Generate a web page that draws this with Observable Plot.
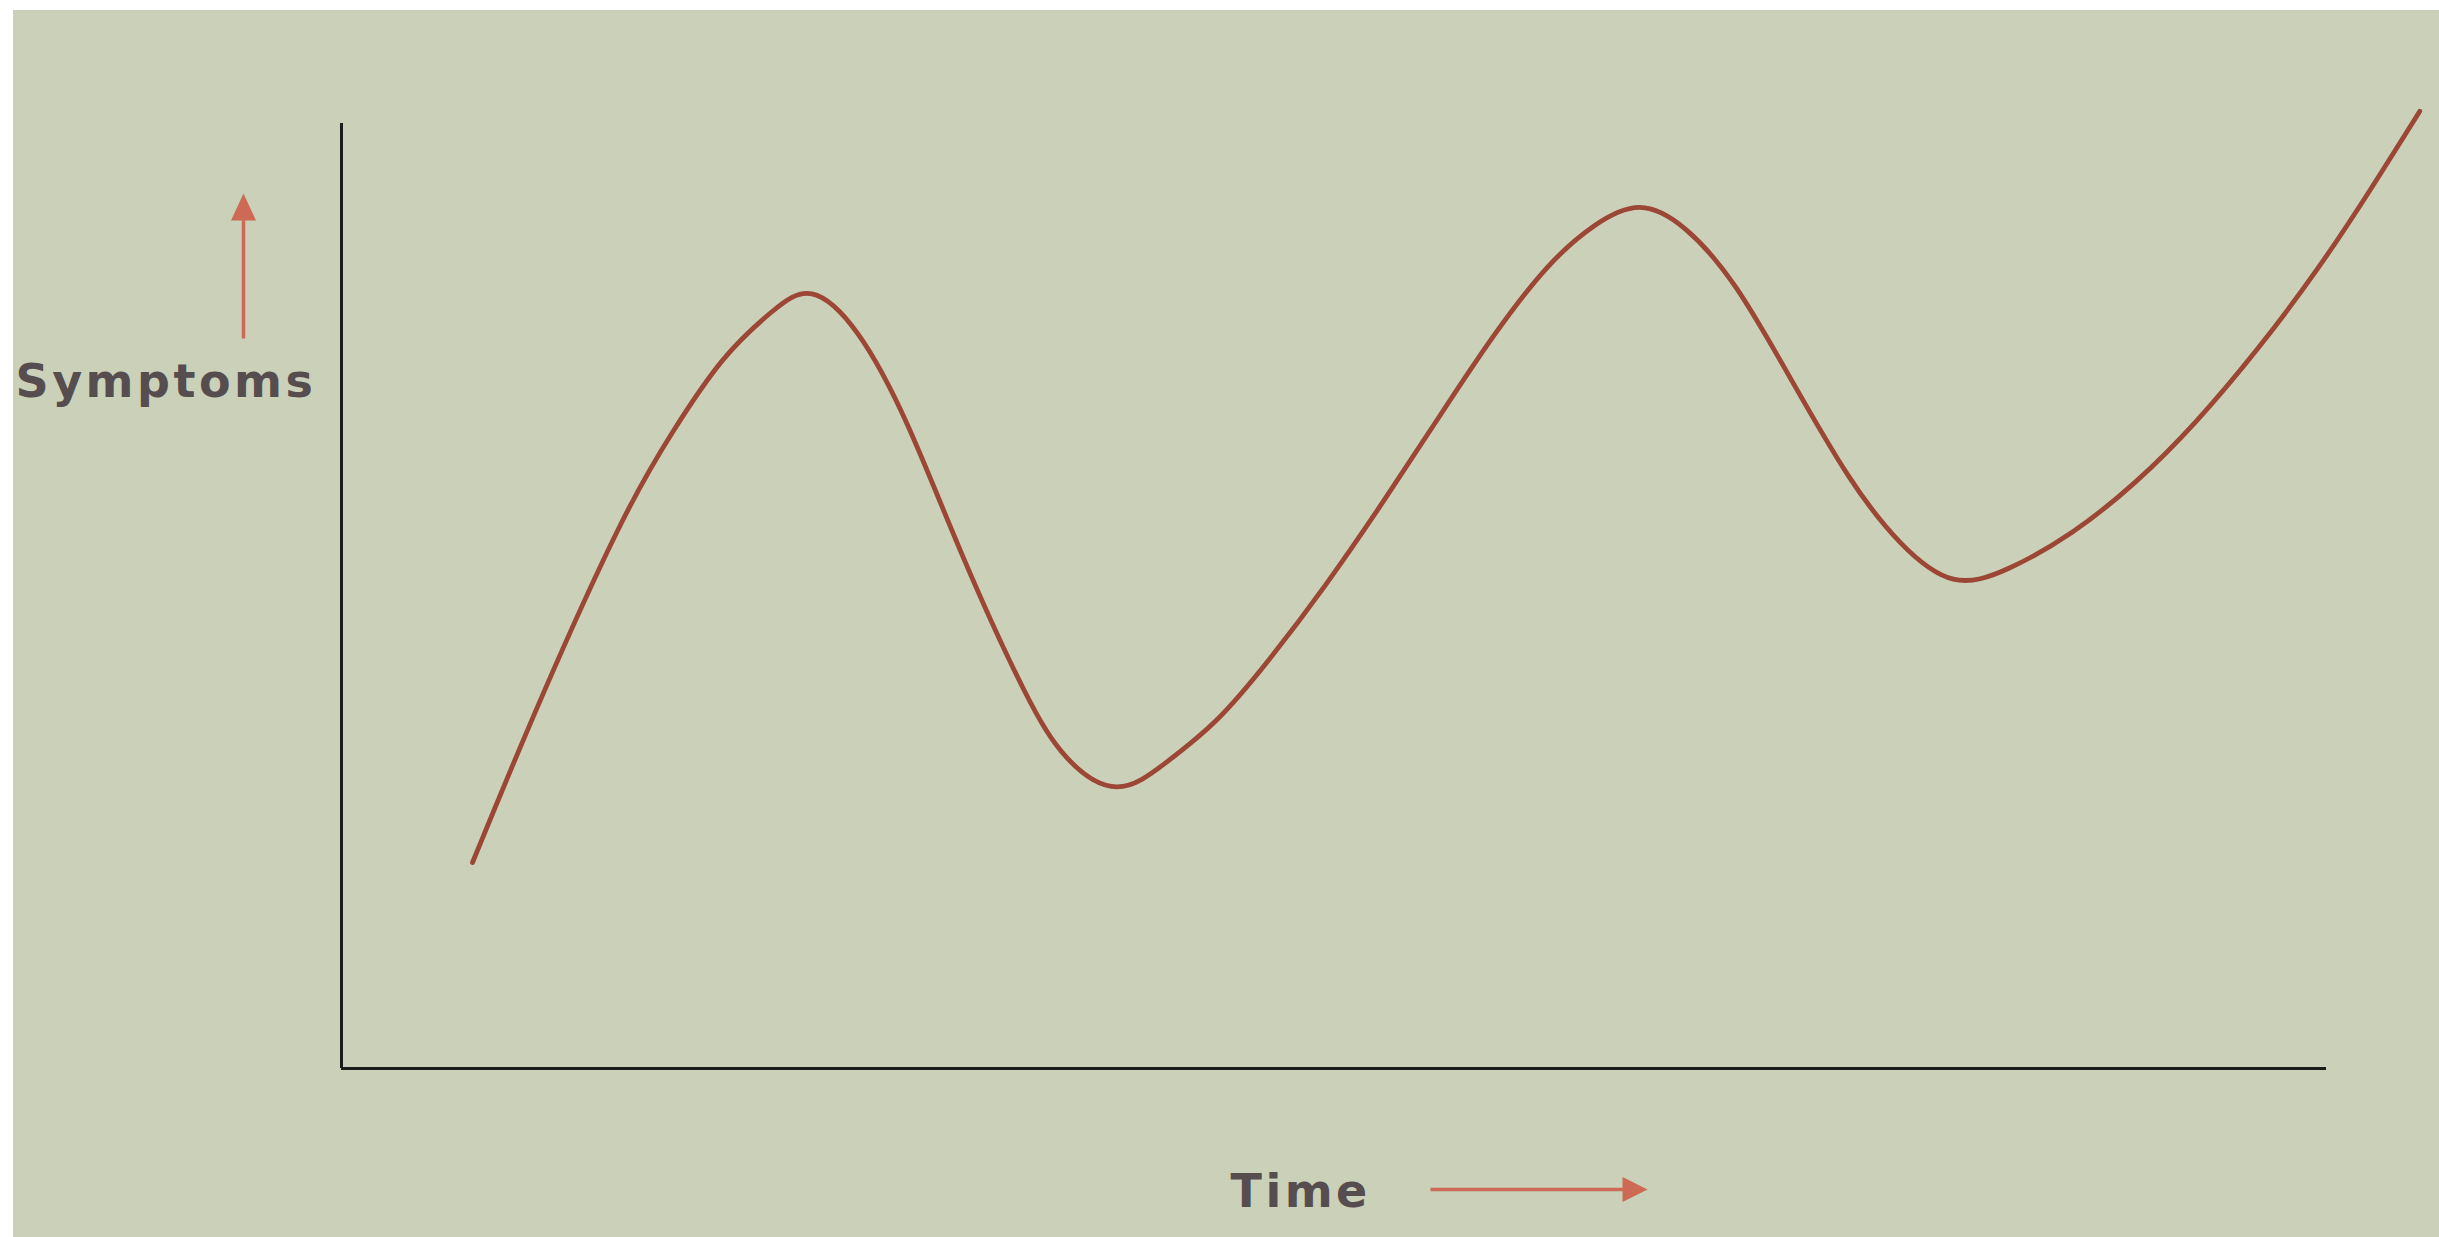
<!DOCTYPE html>
<html>
<head>
<meta charset="utf-8">
<script src="https://cdn.jsdelivr.net/npm/d3@7"></script>
<script src="https://cdn.jsdelivr.net/npm/@observablehq/plot@0.6"></script>
<style>
  html, body { margin: 0; padding: 0; background: #ffffff; overflow: hidden; }
  #panel { position: absolute; left: 13px; top: 10px; width: 2426px; height: 1227px; background: #cbd1b9; }
  #panel svg { display: block; }
  #panel svg text { letter-spacing: 3.5px; }
</style>
</head>
<body>
<div id="panel"></div>
<script>
// Curve (time and symptom level, arbitrary units 0–100)
const time = [6.6, 10.0, 14.4, 16.7, 19.2, 21.8, 23.6, 26.0, 28.5, 31.2, 34.6, 36.4, 39.1,
  41.5, 44.1, 46.7, 49.5, 52.6, 55.4, 58.0, 60.8, 63.1, 65.4, 67.7, 70.2, 73.0, 76.0, 78.5, 81.2,
  83.9, 87.2, 90.4, 93.4, 96.6, 99.6, 102.2, 104.7];
const symptoms = [21.8, 39.2, 59.6, 67.5, 75.5, 80.4, 83.2, 78.6, 68.8, 54.3, 38.7, 32.5, 28.5,
  32.3, 36.5, 43.1, 50.8, 60.3, 69.3, 77.6, 85.3, 89.4, 92.0, 89.3, 83.4, 73.0, 62.0, 55.3, 50.7,
  52.6, 56.5, 61.9, 68.2, 76.2, 84.6, 92.9, 101.3];
const axisLabels = ["Symptoms", "Time"];

const rows = time.map((t, i) => ({time: t, symptoms: symptoms[i]}));

// Filled arrow drawn as a custom symbol (points right; rotate for other directions)
function arrowSymbol(len, headLen, halfHead, thick) {
  return {
    draw(ctx) {
      const x0 = -len / 2, x1 = len / 2, xb = x1 - headLen, h = thick / 2;
      ctx.moveTo(x0, -h);
      ctx.lineTo(xb, -h);
      ctx.lineTo(xb, -halfHead);
      ctx.lineTo(x1, 0);
      ctx.lineTo(xb, halfHead);
      ctx.lineTo(xb, h);
      ctx.lineTo(x0, h);
      ctx.closePath();
    }
  };
}

const arrowColor = "#cc6a55";
const textColor = "#564d4f";
const labelFont = "DejaVu Sans, Verdana, sans-serif";

const chart = Plot.plot({
  width: 2426,
  height: 1227,
  marginLeft: 328,
  marginTop: 113,
  marginRight: 113,
  marginBottom: 169,
  style: {background: "none", overflow: "visible"},
  x: {domain: [0, 100], axis: null},
  y: {domain: [0, 100], axis: null},
  marks: [
    Plot.ruleX([0], {stroke: "#1c1c1c", strokeWidth: 3}),
    Plot.ruleY([0], {stroke: "#1c1c1c", strokeWidth: 3}),
    Plot.line(rows, {x: "time", y: "symptoms", curve: "basis", stroke: "#9c4636", strokeWidth: 4.8}),
    Plot.text([axisLabels[0]], {
      text: d => d, frameAnchor: "top-left", dx: -326, dy: 241, textAnchor: "start",
      fontFamily: labelFont, fontWeight: "bold", fontSize: 46,
      fill: textColor
    }),
    Plot.text([axisLabels[1]], {
      text: d => d, frameAnchor: "bottom-left", dx: 889, dy: 138, textAnchor: "start",
      fontFamily: labelFont, fontWeight: "bold", fontSize: 46,
      fill: textColor
    }),
    Plot.dot([0], {
      frameAnchor: "top-left", dx: -98, dy: 142.5, rotate: -90,
      symbol: arrowSymbol(145, 27, 12.5, 3.5), fill: arrowColor, stroke: "none"
    }),
    Plot.dot([0], {
      frameAnchor: "bottom-left", dx: 1197.5, dy: 121,
      symbol: arrowSymbol(217, 25, 12.5, 3.5), fill: arrowColor, stroke: "none"
    })
  ]
});

document.getElementById("panel").appendChild(chart);
</script>
</body>
</html>
